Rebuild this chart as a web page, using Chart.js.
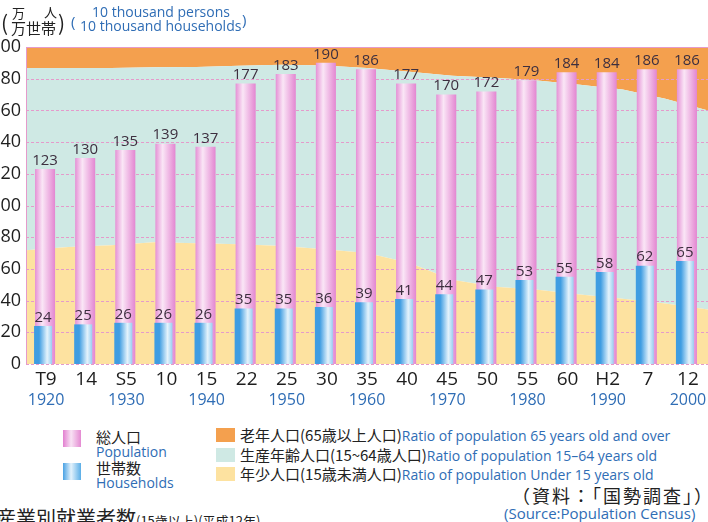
<!DOCTYPE html>
<html>
<head>
<meta charset="utf-8">
<script src="https://cdn.jsdelivr.net/npm/chart.js@4.4.1/dist/chart.umd.min.js"></script>
<style>
  body { margin: 0; width: 708px; height: 522px; overflow: hidden; background: #fff; position: relative;
         font-family: 'Open Sans', 'Noto Sans CJK JP', sans-serif; }
  #wrap { position: absolute; left: -12px; top: 0; width: 720px; height: 420px; }
  .t { position: absolute; white-space: nowrap; line-height: 1; }
  .jp { font-family: 'Noto Sans CJK JP', sans-serif; color: #222; }
  .en { font-family: 'Open Sans', sans-serif; color: #2f6db5; }
  .sw { position: absolute; }
</style>
</head>
<body>
<div id="wrap"><canvas id="chart" width="720" height="420"></canvas></div>

<!-- 単位 -->
<div class="t jp" style="left:1px;top:12px;font-size:21px;">(</div>
<div class="t jp" style="left:12px;top:6px;font-size:13px;">万</div>
<div class="t jp" style="left:44px;top:5px;font-size:13px;">人</div>
<div class="t jp" style="left:11px;top:20px;font-size:15px;">万世帯</div>
<div class="t jp" style="left:58px;top:12px;font-size:21px;">)</div>
<div class="t en" style="left:71px;top:14px;font-size:15px;">(</div>
<div class="t en" style="left:92px;top:5px;font-size:14px;">10 thousand persons</div>
<div class="t en" style="left:80px;top:19px;font-size:14px;">10 thousand households</div>
<div class="t en" style="left:242px;top:12px;font-size:15px;">)</div>

<!-- 凡例 -->
<div class="sw" style="left:63px;top:430px;width:18px;height:17px;background:linear-gradient(90deg,#e27fd0,#f8e2f4 45%,#e48ad2);"></div>
<div class="t jp" style="left:96px;top:429px;font-size:15px;">総人口</div>
<div class="t en" style="left:96px;top:445px;font-size:14px;">Population</div>
<div class="sw" style="left:63px;top:463px;width:18px;height:17px;background:linear-gradient(90deg,#4aa2e4,#e3f2fc 45%,#5aaee7);"></div>
<div class="t jp" style="left:96px;top:460px;font-size:15px;">世帯数</div>
<div class="t en" style="left:96px;top:476px;font-size:14px;">Households</div>

<div class="sw" style="left:216px;top:428px;width:19px;height:14px;background:#f4a04e;"></div>
<div class="t" style="left:240px;top:427px;"><span class="jp" style="font-size:15px;">老年人口(65歳以上人口)</span><span class="en" style="font-size:14px;">Ratio of population 65 years old and over</span></div>
<div class="sw" style="left:216px;top:448px;width:19px;height:14px;background:#cfe9e4;"></div>
<div class="t" style="left:240px;top:447px;"><span class="jp" style="font-size:15px;">生産年齢人口(15~64歳人口)</span><span class="en" style="font-size:14px;">Ratio of population 15–64 years old</span></div>
<div class="sw" style="left:216px;top:467px;width:19px;height:14px;background:#fde2a0;"></div>
<div class="t" style="left:240px;top:466px;"><span class="jp" style="font-size:15px;">年少人口(15歳未満人口)</span><span class="en" style="font-size:14px;">Ratio of population Under 15 years old</span></div>

<div class="t jp" style="left:512px;top:486px;font-size:18px;letter-spacing:2px;">（資料：「国勢調査」）</div>
<div class="t en" style="left:504px;top:506px;font-size:15px;">(Source:Population Census)</div>

<div class="t jp" style="left:-4px;top:508px;font-size:20px;">産業別就業者数<span style="font-size:13px;">(15歳以上)(平成12年)</span></div>

<script>
const eraLabels = ['T9', '14', 'S5', '10', '15', '22', '25', '30', '35', '40', '45', '50', '55', '60', 'H2', '7', '12'];
const yearLabels = ['1920', '', '1930', '', '1940', '', '1950', '', '1960', '', '1970', '', '1980', '', '1990', '', '2000'];
const population = [123, 130, 135, 139, 137, 177, 183, 190, 186, 177, 170, 172, 179, 184, 184, 186, 186];
const households = [24, 25, 26, 26, 26, 35, 35, 36, 39, 41, 44, 47, 53, 55, 58, 62, 65];
// 年齢別割合 (%)
const under15Pct = [35.9, 36.9, 37.5, 38.4, 38.1, 37.8, 37.2, 36.2, 35.0, 31.9, 26.6, 24.4, 23.4, 21.9, 20.6, 19.1, 17.2];
const over65Pct = [6.6, 6.6, 6.6, 6.4, 6.3, 5.9, 5.6, 5.8, 6.6, 7.8, 9.1, 9.7, 10.6, 11.9, 13.4, 16.3, 20.0];

const CAT_PCT = 0.2;   // 棒を少しずらして重ねる
const PINK_W = 22;
const BLUE_W = 18;

const workingLine = over65Pct.map(v => 100 - v);
const fullLine = over65Pct.map(() => 100);

function barGradient(stops, side, w) {
  return function (c) {
    const chart = c.chart;
    const x = chart.scales.x;
    if (!chart.chartArea || !x || !x.width || c.dataIndex === undefined) return stops[0][1];
    const step = x.width / eraLabels.length;
    const cx = x.getPixelForValue(c.dataIndex) + side * step * CAT_PCT / 4;
    const g = chart.ctx.createLinearGradient(cx - w / 2, 0, cx + w / 2, 0);
    stops.forEach(s => g.addColorStop(s[0], s[1]));
    return g;
  };
}

// 面の上、棒の下に目盛線
const gridPlugin = {
  id: 'gridOverArea',
  beforeDatasetDraw(chart, args) {
    if (args.index !== 0) return;
    const ctx = chart.ctx, a = chart.chartArea, y = chart.scales.y;
    ctx.save();
    ctx.strokeStyle = '#e59acb';
    ctx.lineWidth = 1;
    ctx.setLineDash([3, 2]);
    y.ticks.forEach(t => {
      const py = Math.round(y.getPixelForValue(t.value)) + 0.5;
      ctx.beginPath();
      ctx.moveTo(a.left, py);
      ctx.lineTo(a.right, py);
      ctx.stroke();
    });
    ctx.setLineDash([]);
    ctx.beginPath();
    ctx.moveTo(a.left + 0.5, a.bottom);
    ctx.lineTo(a.left + 0.5, a.top + 0.5);
    ctx.lineTo(a.right, a.top + 0.5);
    ctx.stroke();
    ctx.restore();
  }
};

const valuePlugin = {
  id: 'values',
  afterDatasetsDraw(chart) {
    const ctx = chart.ctx;
    ctx.save();
    ctx.font = '15px "Open Sans"';
    ctx.fillStyle = '#3d2f3f';
    ctx.textAlign = 'center';
    ctx.textBaseline = 'bottom';
    [0, 1].forEach(di => {
      const meta = chart.getDatasetMeta(di);
      meta.data.forEach((bar, i) => {
        ctx.fillText(String(chart.data.datasets[di].data[i]), bar.x, bar.y - 1);
      });
    });
    ctx.restore();
  }
};

new Chart(document.getElementById('chart'), {
  type: 'bar',
  data: {
    labels: eraLabels,
    datasets: [
      {
        label: '総人口',
        data: population,
        order: 2,
        categoryPercentage: CAT_PCT,
        barPercentage: 10,
        maxBarThickness: PINK_W,
        backgroundColor: barGradient([[0, '#df79cc'], [0.42, '#fae6f6'], [1, '#e386d1']], -1, PINK_W)
      },
      {
        label: '世帯数',
        data: households,
        order: 1,
        categoryPercentage: CAT_PCT,
        barPercentage: 10,
        maxBarThickness: BLUE_W,
        backgroundColor: barGradient([[0, '#3f9de2'], [0.45, '#e4f3fc'], [1, '#4ea8e6']], 1, BLUE_W)
      },
      {
        type: 'line',
        label: '年少人口',
        data: under15Pct,
        xAxisID: 'xArea',
        yAxisID: 'yPct',
        order: 10,
        fill: 'origin',
        backgroundColor: '#fde2a0',
        borderWidth: 0,
        pointRadius: 0
      },
      {
        type: 'line',
        label: '生産年齢人口',
        data: workingLine,
        xAxisID: 'xArea',
        yAxisID: 'yPct',
        order: 11,
        fill: '-1',
        backgroundColor: '#cfe9e4',
        borderWidth: 0,
        pointRadius: 0
      },
      {
        type: 'line',
        label: '老年人口',
        data: fullLine,
        xAxisID: 'xArea',
        yAxisID: 'yPct',
        order: 12,
        fill: '-1',
        backgroundColor: '#f4a04e',
        borderWidth: 0,
        pointRadius: 0
      }
    ]
  },
  options: {
    responsive: false,
    animation: false,
    devicePixelRatio: 1,
    layout: { padding: { top: 47, bottom: 8, left: 0, right: 0 } },
    plugins: { legend: { display: false }, tooltip: { enabled: false } },
    scales: {
      x: {
        offset: true,
        weight: 0,
        grid: { display: false, drawTicks: false },
        border: { display: false },
        ticks: { color: '#1e1e1e', font: { size: 19, family: 'Open Sans' }, padding: 4, autoSkip: false, maxRotation: 0 },
        afterFit(s) { s.height = 27; }
      },
      x2: {
        type: 'category',
        position: 'bottom',
        labels: yearLabels,
        offset: true,
        weight: 1,
        grid: { display: false, drawTicks: false },
        border: { display: false },
        ticks: { color: '#2f6db5', font: { size: 16, family: 'Open Sans' }, padding: 0, autoSkip: false, maxRotation: 0 },
        afterFit(s) { s.height = 21; }
      },
      xArea: {
        type: 'category',
        labels: eraLabels,
        offset: false,
        display: false
      },
      y: {
        min: 0,
        max: 200,
        grid: { display: false, drawTicks: false },
        border: { display: false },
        ticks: { stepSize: 20, color: '#1e1e1e', font: { size: 18, family: 'Open Sans' }, padding: 5 },
        afterFit(s) { s.width = 38; }
      },
      yPct: {
        min: 0,
        max: 100,
        display: false
      }
    }
  },
  plugins: [gridPlugin, valuePlugin]
});
</script>
</body>
</html>
